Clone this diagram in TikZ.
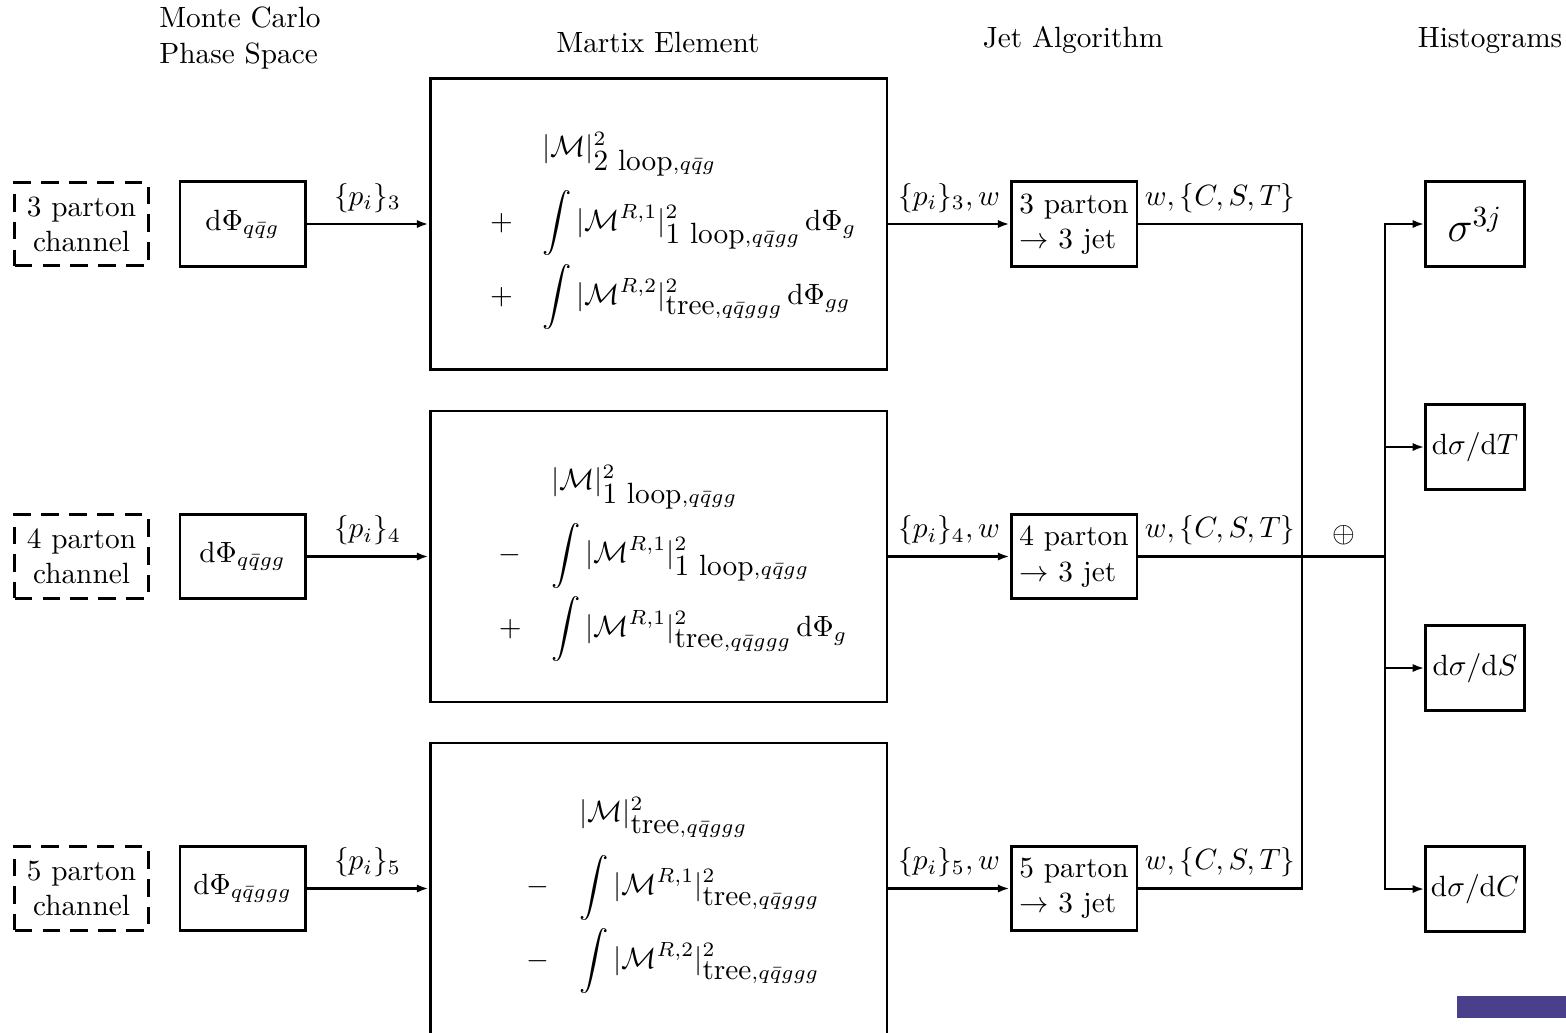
\documentclass[tikz,border=0pt]{standalone}
\usepackage{amsmath}
\usetikzlibrary{arrows.meta}
\definecolor{navbar}{RGB}{73,63,138}
\begin{document}
\begin{tikzpicture}[x=0.012cm, y=-0.012cm, line width=1pt, >={Latex[length=4pt,width=2.8pt]},
  every node/.style={font=\normalsize},
  chan/.style={draw, dash pattern=on 6pt off 3.5pt, minimum width=1.6cm, minimum height=1cm, align=center, inner sep=1pt},
  blk/.style={draw, minimum width=1.5cm, minimum height=1.01cm, inner sep=2pt},
  mebox/.style={draw, minimum width=5.48cm, minimum height=3.49cm},
  jetbox/.style={draw, minimum width=1.51cm, minimum height=1.01cm, align=left, inner sep=1pt},
  hbox/.style={draw, minimum width=1.18cm, minimum height=1.01cm, inner sep=1pt}]
  \useasboundingbox (0,0) rectangle (1566,1032);
  % column titles
  \node[align=left] (mctitle) at (240,38) {Monte Carlo\\Phase Space};
  \node (metitle) at (658,42) {Martix Element};
  \node (jettitle) at (1073,40) {Jet Algorithm};
  \node (histtitle) at (1490,40) {Histograms};
  % 3 parton row
  \node[chan] (chan3) at (81.5,224) {3 parton\\channel};
  \node[blk] (ps3) at (242.5,224) {$\mathrm{d}\Phi_{q\bar qg}$};
  \node[mebox] (me3) at (658.5,224) {\hspace{10pt}$\begin{array}{c@{\hspace{10pt}}l}
      \rule{0pt}{13pt} & |\mathcal{M}|^2_{\mbox{2 loop},q\bar qg}\\[8pt]
    + & \displaystyle\int |\mathcal{M}^{R,1}|^2_{\mbox{1 loop},q\bar qgg}\,\mathrm{d}\Phi_g\\[8pt]
    + & \displaystyle\int |\mathcal{M}^{R,2}|^2_{\mbox{tree},q\bar qggg}\,\mathrm{d}\Phi_{gg}
    \end{array}$};
  \node[jetbox] (jet3) at (1074,224) {3 parton\\$\to$ 3 jet};
  % 4 parton row
  \node[chan] (chan4) at (81.5,556.5) {4 parton\\channel};
  \node[blk] (ps4) at (242.5,556.5) {$\mathrm{d}\Phi_{q\bar qgg}$};
  \node[mebox] (me4) at (658.5,556.5) {\hspace{10pt}$\begin{array}{c@{\hspace{10pt}}l}
      \rule{0pt}{13pt} & |\mathcal{M}|^2_{\mbox{1 loop},q\bar qgg}\\[8pt]
    - & \displaystyle\int |\mathcal{M}^{R,1}|^2_{\mbox{1 loop},q\bar qgg}\\[8pt]
    + & \displaystyle\int |\mathcal{M}^{R,1}|^2_{\mbox{tree},q\bar qggg}\,\mathrm{d}\Phi_g
    \end{array}$};
  \node[jetbox] (jet4) at (1074,556.5) {4 parton\\$\to$ 3 jet};
  % 5 parton row
  \node[chan] (chan5) at (81.5,888.5) {5 parton\\channel};
  \node[blk] (ps5) at (242.5,888.5) {$\mathrm{d}\Phi_{q\bar qggg}$};
  \node[mebox] (me5) at (658.5,888.5) {\hspace{10pt}$\begin{array}{c@{\hspace{10pt}}l}
      \rule{0pt}{13pt} & |\mathcal{M}|^2_{\mbox{tree},q\bar qggg}\\[8pt]
    - & \displaystyle\int |\mathcal{M}^{R,1}|^2_{\mbox{tree},q\bar qggg}\\[8pt]
    - & \displaystyle\int |\mathcal{M}^{R,2}|^2_{\mbox{tree},q\bar qggg}
    \end{array}$};
  \node[jetbox] (jet5) at (1074,888.5) {5 parton\\$\to$ 3 jet};
  % histograms
  \node[hbox] (hist1) at (1475,224) {\Large $\sigma^{3j}$};
  \node[hbox] (hist2) at (1475,447) {$\mathrm{d}\sigma/\mathrm{d}T$};
  \node[hbox] (hist3) at (1475,668) {$\mathrm{d}\sigma/\mathrm{d}S$};
  \node[hbox] (hist4) at (1475,889) {$\mathrm{d}\sigma/\mathrm{d}C$};
  \coordinate (sumL) at (1302,556.5);
  \coordinate (sumR) at (1385,556.5);
  % connectors
  \draw[->] (ps3) -- node[above] {$\{p_i\}_3$} (me3);
  \draw[->] (ps4) -- node[above] {$\{p_i\}_4$} (me4);
  \draw[->] (ps5) -- node[above] {$\{p_i\}_5$} (me5);
  \draw[->] (me3) -- node[above] {$\{p_i\}_3,w$} (jet3);
  \draw[->] (me4) -- node[above] {$\{p_i\}_4,w$} (jet4);
  \draw[->] (me5) -- node[above] {$\{p_i\}_5,w$} (jet5);
  \draw (jet3) -| node[pos=0.25,above] {$w,\{C,S,T\}$} (sumL);
  \draw (jet4) -- node[above] {$w,\{C,S,T\}$} (sumL) -- node[above] {$\oplus$} (sumR);
  \draw (jet5) -| node[pos=0.25,above] {$w,\{C,S,T\}$} (sumL);
  \draw[->] (sumR) |- (hist1);
  \draw[->] (sumR) |- (hist2);
  \draw[->] (sumR) |- (hist3);
  \draw[->] (sumR) |- (hist4);
  \fill[navbar] (1457,996) rectangle (1566,1018);
\end{tikzpicture}
\end{document}
